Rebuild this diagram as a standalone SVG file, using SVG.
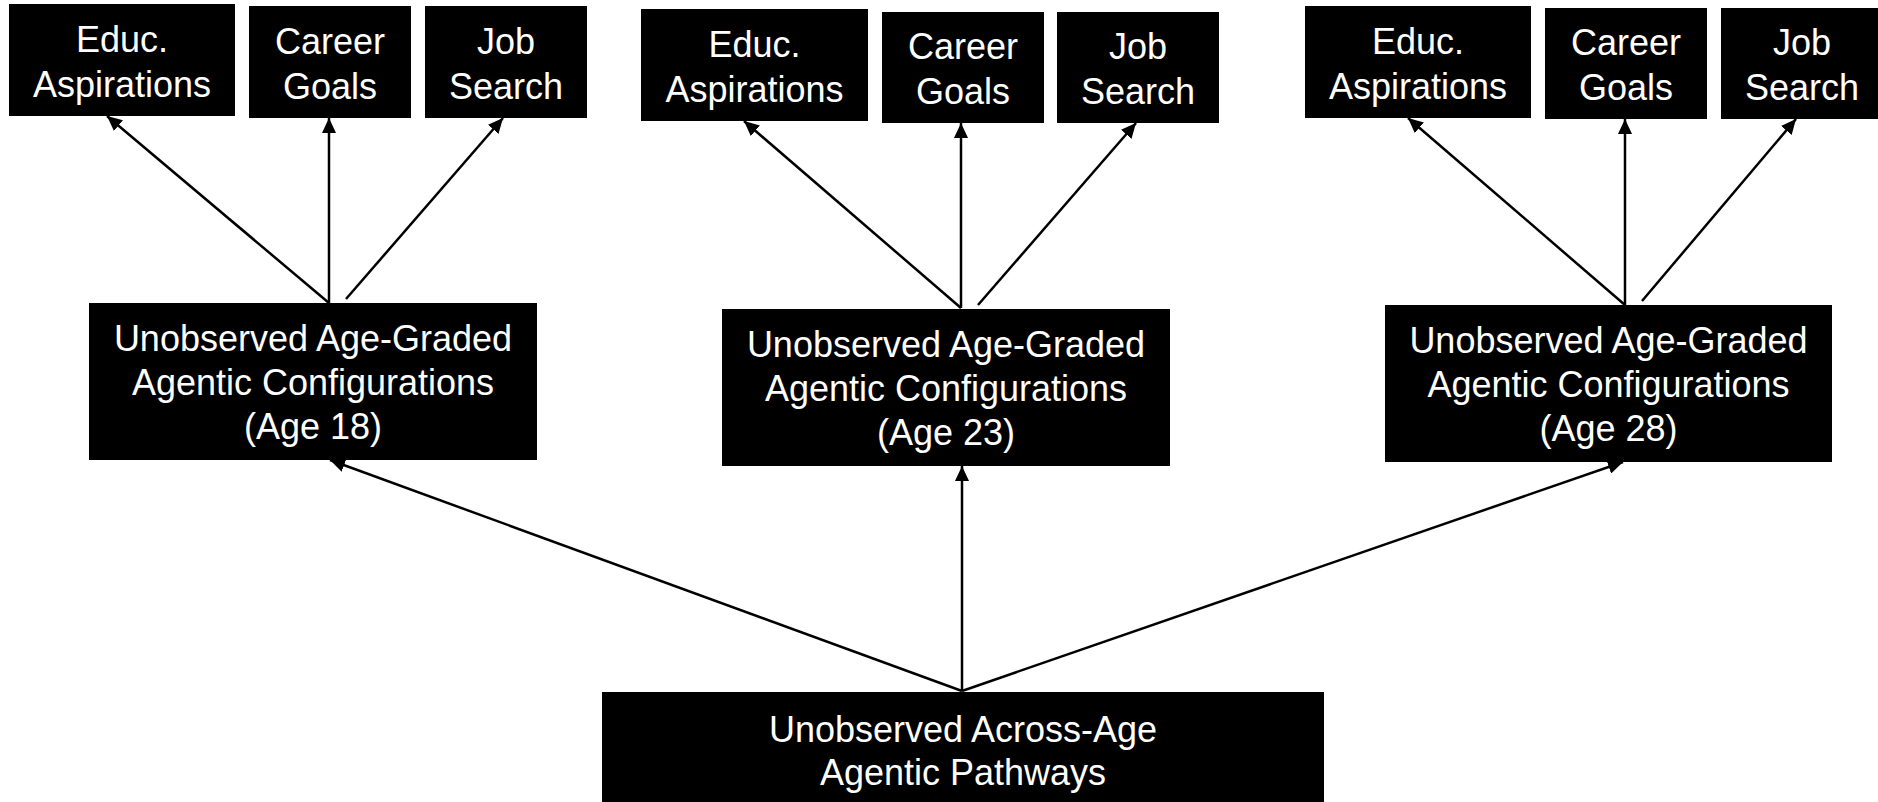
<svg xmlns="http://www.w3.org/2000/svg" width="1878" height="802" viewBox="0 0 1878 802">
  <style>
    .box { fill: #000; }
    .lbl { fill: #fff; font-family: "Liberation Sans", Arial, sans-serif; font-size: 36px; text-anchor: middle; }
    .conn { stroke: #000; stroke-width: 2.5; fill: none; marker-end: url(#arrow); }
  </style>
  <defs>
    <marker id="arrow" markerUnits="userSpaceOnUse" markerWidth="15" markerHeight="14" viewBox="0 0 15 14" refX="15" refY="7" orient="auto">
      <path d="M0,0 L15,7 L0,14 z" fill="#000"/>
    </marker>
  </defs>
  <rect width="1878" height="802" fill="#fff"/>

  <!-- connectors -->
  <g id="connectors">
    <!-- across-age pathways to age-graded configurations -->
    <line class="conn" x1="962" y1="691" x2="330" y2="460"/>
    <line class="conn" x1="962" y1="691" x2="962" y2="466"/>
    <line class="conn" x1="962" y1="691" x2="1623" y2="462"/>
    <!-- age 18 indicators -->
    <line class="conn" x1="329" y1="303" x2="107" y2="116"/>
    <line class="conn" x1="329" y1="303" x2="329" y2="118"/>
    <line class="conn" x1="346" y1="299" x2="503" y2="118"/>
    <!-- age 23 indicators -->
    <line class="conn" x1="961" y1="308" x2="744" y2="121"/>
    <line class="conn" x1="961" y1="308" x2="961" y2="123"/>
    <line class="conn" x1="978" y1="305" x2="1136" y2="123"/>
    <!-- age 28 indicators -->
    <line class="conn" x1="1625" y1="305" x2="1408" y2="118"/>
    <line class="conn" x1="1625" y1="305" x2="1625" y2="119"/>
    <line class="conn" x1="1642" y1="301" x2="1796" y2="119"/>
  </g>

  <!-- age 18 group -->
  <g id="educ18"><rect class="box" x="9" y="4" width="226" height="112"/>
    <text class="lbl" x="122" y="51.5">Educ.</text><text class="lbl" x="122" y="96.5">Aspirations</text></g>
  <g id="career18"><rect class="box" x="249" y="6" width="162" height="112"/>
    <text class="lbl" x="330" y="53.5">Career</text><text class="lbl" x="330" y="98.5">Goals</text></g>
  <g id="job18"><rect class="box" x="425" y="6" width="162" height="112"/>
    <text class="lbl" x="506" y="53.5">Job</text><text class="lbl" x="506" y="98.5">Search</text></g>
  <g id="config18"><rect class="box" x="89" y="303" width="448" height="157"/>
    <text class="lbl" x="313" y="351">Unobserved Age-Graded</text>
    <text class="lbl" x="313" y="395">Agentic Configurations</text>
    <text class="lbl" x="313" y="439">(Age 18)</text></g>

  <!-- age 23 group -->
  <g id="educ23"><rect class="box" x="641" y="9" width="227" height="112"/>
    <text class="lbl" x="754.5" y="56.5">Educ.</text><text class="lbl" x="754.5" y="101.5">Aspirations</text></g>
  <g id="career23"><rect class="box" x="882" y="12" width="162" height="111"/>
    <text class="lbl" x="963" y="59">Career</text><text class="lbl" x="963" y="104">Goals</text></g>
  <g id="job23"><rect class="box" x="1057" y="12" width="162" height="111"/>
    <text class="lbl" x="1138" y="59">Job</text><text class="lbl" x="1138" y="104">Search</text></g>
  <g id="config23"><rect class="box" x="722" y="309" width="448" height="157"/>
    <text class="lbl" x="946" y="357">Unobserved Age-Graded</text>
    <text class="lbl" x="946" y="401">Agentic Configurations</text>
    <text class="lbl" x="946" y="445">(Age 23)</text></g>

  <!-- age 28 group -->
  <g id="educ28"><rect class="box" x="1305" y="6" width="226" height="112"/>
    <text class="lbl" x="1418" y="53.5">Educ.</text><text class="lbl" x="1418" y="98.5">Aspirations</text></g>
  <g id="career28"><rect class="box" x="1545" y="8" width="162" height="111"/>
    <text class="lbl" x="1626" y="55">Career</text><text class="lbl" x="1626" y="100">Goals</text></g>
  <g id="job28"><rect class="box" x="1721" y="8" width="162" height="111"/>
    <text class="lbl" x="1802" y="55">Job</text><text class="lbl" x="1802" y="100">Search</text></g>
  <g id="config28"><rect class="box" x="1385" y="305" width="447" height="157"/>
    <text class="lbl" x="1608.5" y="353">Unobserved Age-Graded</text>
    <text class="lbl" x="1608.5" y="397">Agentic Configurations</text>
    <text class="lbl" x="1608.5" y="441">(Age 28)</text></g>

  <!-- across-age pathways -->
  <g id="pathways"><rect class="box" x="602" y="692" width="722" height="120"/>
    <text class="lbl" x="963" y="742">Unobserved Across-Age</text>
    <text class="lbl" x="963" y="785">Agentic Pathways</text></g>
</svg>
